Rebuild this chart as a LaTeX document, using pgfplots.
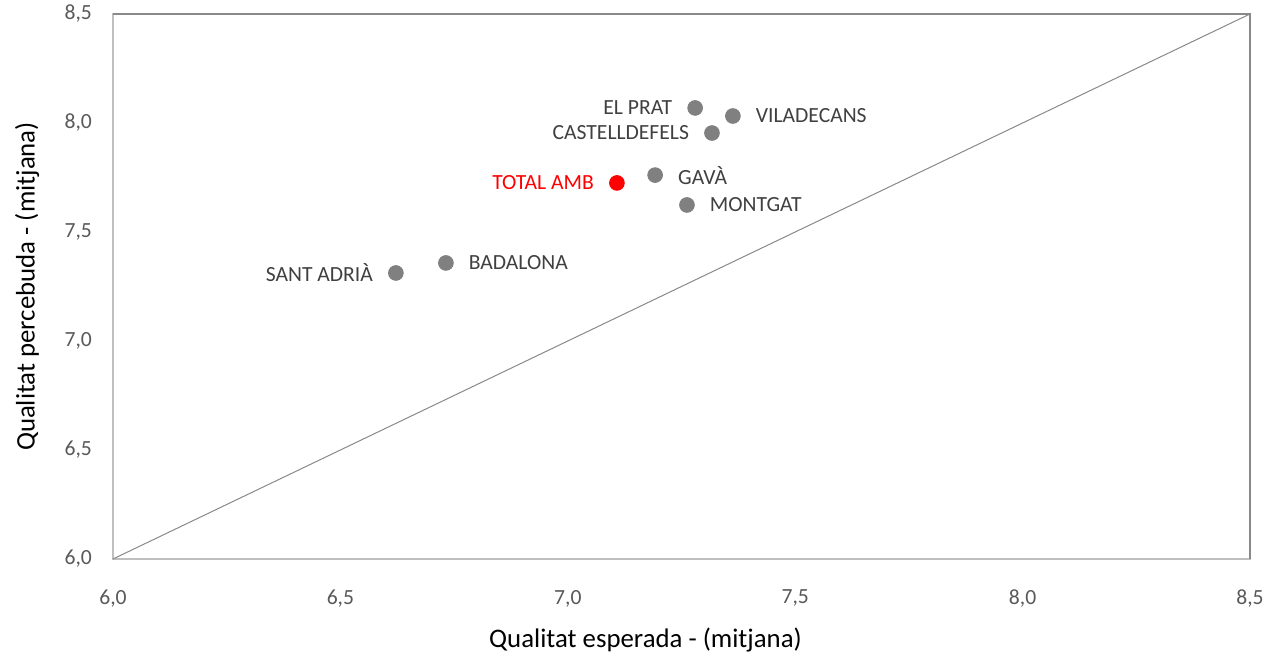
\documentclass[border=0pt]{standalone}
\usepackage{pgfplots}
\pgfplotsset{compat=1.18}
\usepackage{pgfplotstable}
\usepackage{fontspec}
\setmainfont{Carlito}

\definecolor{tickgray}{HTML}{595959}
\definecolor{ptgray}{HTML}{808080}
\definecolor{axgray}{HTML}{BFBFBF}
\definecolor{frame}{HTML}{898989}
\definecolor{lblgray}{HTML}{404040}

% etiqueta a l'esquerra del punt
\pgfplotstableread[col sep=comma]{
x,y,label
7.280,8.069,EL PRAT
7.317,7.954,CASTELLDEFELS
6.622,7.312,SANT ADRIÀ
}\esquerra

% etiqueta a la dreta del punt
\pgfplotstableread[col sep=comma]{
x,y,label
7.363,8.032,VILADECANS
7.192,7.761,GAVÀ
7.262,7.624,MONTGAT
6.732,7.358,BADALONA
}\dreta

\pgfplotstableread[col sep=comma]{
x,y,label
7.108,7.725,TOTAL AMB
}\total

\pgfplotsset{
  etiqueta/.style 2 args={
    nodes near coords,
    point meta=explicit symbolic,
    nodes near coords style={anchor=#1, font=\fontsize{10.8}{12}\selectfont,
      text=#2, inner sep=0pt, outer xsep=11.5pt, outer ysep=0pt},
  }
}

\begin{document}
\begin{tikzpicture}
\begin{axis}[
  name=ax,
  scale only axis,
  width=568.5pt, height=272.5pt,
  xmin=6, xmax=8.5, ymin=6, ymax=8.5,
  xtick={6,6.5,...,8.5}, ytick={6,6.5,...,8.5},
  axis line style={axgray, line width=0.9pt},
  major tick length=0pt,
  tick label style={font=\fontsize{10.8}{12}\selectfont, text=tickgray},
  /pgf/number format/assume math mode=true,
  /pgf/number format/.cd, fixed, fixed zerofill, precision=1, use comma,
  /pgfplots/.cd,
  xticklabel style={yshift=-12pt},
  yticklabel style={xshift=-7pt},
  xlabel={Qualitat esperada - (mitjana)},
  ylabel={Qualitat percebuda - (mitjana)},
  label style={font=\fontsize{13.4}{15}\selectfont, text=black},
  xlabel style={at={(0.5,0)}, anchor=center, yshift=-40.5pt, xshift=-18pt},
  ylabel style={at={(0,0.5)}, anchor=center, yshift=43pt},
  clip=false,
]
% diagonal
\addplot[frame, line width=0.5pt] coordinates {(6,6) (8.5,8.5)};
% top and right frame
\addplot[frame, line width=1pt] coordinates {(6,8.5) (8.5,8.5) (8.5,6)};
\addplot[only marks, mark=*, mark size=3.7pt, color=ptgray, etiqueta={east}{lblgray}]
  table[x=x, y=y, meta=label] {\esquerra};
\addplot[only marks, mark=*, mark size=3.7pt, color=ptgray, etiqueta={west}{lblgray}]
  table[x=x, y=y, meta=label] {\dreta};
\addplot[only marks, mark=*, mark size=3.7pt, color=red, etiqueta={east}{red}]
  table[x=x, y=y, meta=label] {\total};
\end{axis}
\pgfresetboundingbox
\path (ax.south west) ++(-56.5pt,-48.5pt) coordinate (bl);
\path (ax.north east) ++(13pt,7pt) coordinate (tr);
\useasboundingbox (bl) rectangle (tr);
\end{tikzpicture}
\end{document}
